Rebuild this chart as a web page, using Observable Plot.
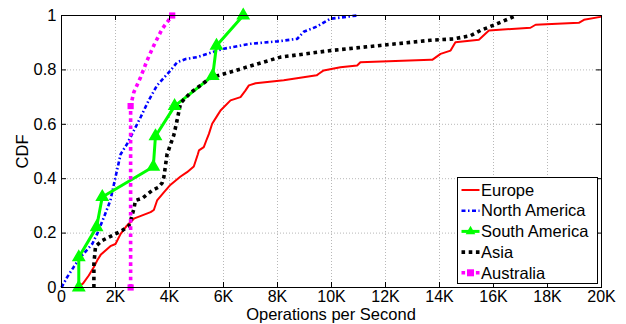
<!DOCTYPE html>
<html><head><meta charset="utf-8">
<script src="https://cdn.jsdelivr.net/npm/d3@7"></script>
<script src="https://cdn.jsdelivr.net/npm/@observablehq/plot@0.6"></script>
<style>
body{margin:0;background:#fff}
#chart{position:relative;width:626px;height:324px}
svg{font-family:"Liberation Sans",Arial,sans-serif}
</style>
</head><body><div id="chart"></div>
<script>
// values: x in thousands of operations per second, y = CDF
const europe = [[0.6,0],[0.8,0.015],[1.01,0.044],[1.2,0.075],[1.32,0.099],[1.45,0.12],[1.63,0.136],[1.81,0.152],[2.0,0.16],[2.19,0.197],[2.4,0.225],[2.68,0.253],[2.99,0.265],[3.3,0.277],[3.42,0.285],[3.54,0.32],[3.79,0.35],[4.04,0.378],[4.41,0.408],[4.65,0.424],[4.9,0.445],[5.05,0.49],[5.09,0.504],[5.27,0.516],[5.38,0.545],[5.46,0.565],[5.58,0.602],[5.77,0.632],[5.89,0.651],[6.26,0.688],[6.63,0.70],[6.81,0.724],[6.94,0.743],[7.19,0.751],[8.23,0.762],[9.45,0.780],[9.53,0.786],[9.71,0.798],[10.33,0.81],[10.95,0.816],[11.07,0.828],[13.67,0.837],[13.73,0.837],[14.04,0.859],[14.41,0.871],[14.59,0.902],[15.46,0.911],[15.83,0.945],[17.37,0.955],[17.56,0.966],[19.16,0.973],[19.35,0.984],[19.96,0.995],[20,1]];
const northAmerica = [[0,0],[0.21,0.038],[0.45,0.075],[0.70,0.111],[1.14,0.16],[1.32,0.197],[1.57,0.258],[1.81,0.32],[2.0,0.406],[2.19,0.49],[2.43,0.528],[2.68,0.577],[2.93,0.626],[3.23,0.688],[3.54,0.743],[4.04,0.798],[4.28,0.828],[4.6,0.84],[5.02,0.847],[6.01,0.878],[7.0,0.896],[8.0,0.905],[8.73,0.914],[8.97,0.94],[9.47,0.96],[9.96,0.988],[10.95,1.0]];
const southAmerica = [[0.64,0],[0.64,0.111],[1.30,0.222],[1.51,0.333],[3.40,0.444],[3.48,0.556],[4.19,0.667],[5.60,0.778],[5.74,0.889],[6.73,1.0]];
const asia = [[1.2,0],[1.2,0.087],[1.26,0.151],[1.51,0.173],[1.88,0.191],[2.25,0.21],[2.49,0.225],[2.56,0.246],[2.68,0.289],[2.74,0.32],[2.99,0.328],[3.36,0.357],[3.6,0.369],[3.73,0.385],[3.79,0.405],[3.91,0.49],[4.16,0.56],[4.28,0.614],[4.41,0.678],[4.78,0.716],[5.15,0.743],[5.52,0.771],[6.26,0.792],[7.25,0.822],[8.11,0.847],[9.96,0.871],[11.81,0.89],[13.67,0.909],[14.53,0.914],[15.15,0.926],[15.52,0.945],[16.14,0.97],[16.75,0.996],[16.85,1.0]];
const australia = [[2.56,0],[2.56,0.667],[2.68,0.718],[2.93,0.773],[3.17,0.835],[3.42,0.89],[3.73,0.951],[4.10,1.0]];
const australiaMarkers = [[2.56,0],[2.56,0.667],[4.10,1.0]];
const xTicks = [0,2,4,6,8,10,12,14,16,18,20];
const xTickLabels = ["0","2K","4K","6K","8K","10K","12K","14K","16K","18K","20K"];
const yTicks = [0,0.2,0.4,0.6,0.8,1];
const yTickLabels = ["0","0.2","0.4","0.6","0.8","1"];
const seriesNames = ["Europe","North America","South America","Asia","Australia"];
const xLabel = "Operations per Second";
const yLabel = "CDF";

const styles = {
  "Europe": {stroke:"#ff0000", strokeWidth:2},
  "North America": {stroke:"#0000ff", strokeWidth:2.6, strokeDasharray:"4,2.5,1.5,2.5"},
  "South America": {stroke:"#00ff00", strokeWidth:3},
  "Asia": {stroke:"#000000", strokeWidth:3.6, strokeDasharray:"3.6,3.6"},
  "Australia": {stroke:"#ff00ff", strokeWidth:3.6, strokeDasharray:"3.6,3.6"}
};
const seriesData = [europe, northAmerica, southAmerica, asia, australia];

const W = 626, H = 324, mL = 61, mR = 25, mT = 15, mB = 37;
const xDomain = [0,20], yDomain = [0,1];
const tickPx = 5;
const tx = tickPx * (xDomain[1]-xDomain[0]) / (W-mL-mR);
const ty = tickPx * (yDomain[1]-yDomain[0]) / (H-mT-mB);

const xFmt = d => xTickLabels[xTicks.indexOf(d)];
const yFmt = d => yTickLabels[yTicks.indexOf(d)];
const grid = {stroke:"#b8b8b8", strokeOpacity:1, strokeDasharray:"1,2", strokeWidth:1};
const tk = {stroke:"#000", strokeWidth:1};

const marks = [
  Plot.gridX(xTicks, grid),
  Plot.gridY(yTicks, grid),
  ...seriesData.map((s, i) => Plot.line(s, {x: d => d[0], y: d => d[1], strokeLinecap:"butt", strokeLinejoin:"miter", ...styles[seriesNames[i]]})),
  Plot.dot(southAmerica, {x: d => d[0], y: d => d[1], symbol:"triangle", fill:"#00ff00", stroke:"#00ff00", r:4.2}),
  Plot.dot(australiaMarkers, {x: d => d[0], y: d => d[1], symbol:"square", fill:"#ff00ff", r:3.5}),
  // inward ticks on all four sides
  Plot.ruleX(xTicks, {x: d => d, y1: yDomain[0], y2: yDomain[0] + ty, ...tk}),
  Plot.ruleX(xTicks, {x: d => d, y1: yDomain[1], y2: yDomain[1] - ty, ...tk}),
  Plot.ruleY(yTicks, {y: d => d, x1: xDomain[0], x2: xDomain[0] + tx, ...tk}),
  Plot.ruleY(yTicks, {y: d => d, x1: xDomain[1], x2: xDomain[1] - tx, ...tk}),
  Plot.frame({stroke:"#000", strokeWidth:1}),
  Plot.axisX(xTicks, {anchor:"bottom", tickSize:0, tickPadding:3, tickFormat:xFmt, fontSize:16, label:null}),
  Plot.axisY(yTicks, {anchor:"left", tickSize:0, tickPadding:5, tickFormat:yFmt, fontSize:16.5, label:yLabel, labelAnchor:"center", labelOffset:45, labelArrow:"none"})
];

const chart = Plot.plot({
  width:W, height:H,
  marginLeft:mL, marginRight:mR, marginTop:mT, marginBottom:mB,
  style:{fontFamily:"Liberation Sans, Arial, sans-serif", fontSize:"16.5px", color:"#000", background:"#fff"},
  x:{domain:xDomain},
  y:{domain:yDomain},
  marks
});
document.getElementById("chart").appendChild(chart);

const svg = d3.select(chart);
// x axis title
svg.append("text").attr("x", mL + (W-mL-mR)/2).attr("y", 320)
  .attr("text-anchor","middle").attr("font-size",16.5).attr("fill","#000")
  .attr("font-family","Liberation Sans, Arial, sans-serif").text(xLabel);

// legend (inside plot, bottom right)
const lg = svg.append("g").attr("font-family","Liberation Sans, Arial, sans-serif").attr("font-size",16.5).attr("text-anchor","start");
const lx = 457.5, ly = 177.5, lw = 140, lh = 106, rowH = 20.7, firstY = 190;
lg.append("rect").attr("x",lx).attr("y",ly).attr("width",lw).attr("height",lh).attr("fill","#fff").attr("stroke","#000").attr("stroke-width",1);
seriesNames.forEach((name, i) => {
  const y = firstY + i*rowH;
  const st = styles[name];
  lg.append("line").attr("x1",lx+4).attr("x2",lx+22).attr("y1",y).attr("y2",y)
    .attr("stroke",st.stroke).attr("stroke-width",st.strokeWidth)
    .attr("stroke-dasharray",st.strokeDasharray || null);
  if (name === "South America") {
    lg.append("path").attr("d", d3.symbol(d3.symbolTriangle, 40)()).attr("transform",`translate(${lx+13},${y})`).attr("fill","#00ff00");
  }
  if (name === "Australia") {
    lg.append("rect").attr("x",lx+9.5).attr("y",y-3.5).attr("width",7).attr("height",7).attr("fill","#ff00ff");
  }
  lg.append("text").attr("x",lx+23.5).attr("y",y).attr("dy","0.35em").attr("text-anchor","start").attr("fill","#000").text(name);
});
</script>
</body></html>
